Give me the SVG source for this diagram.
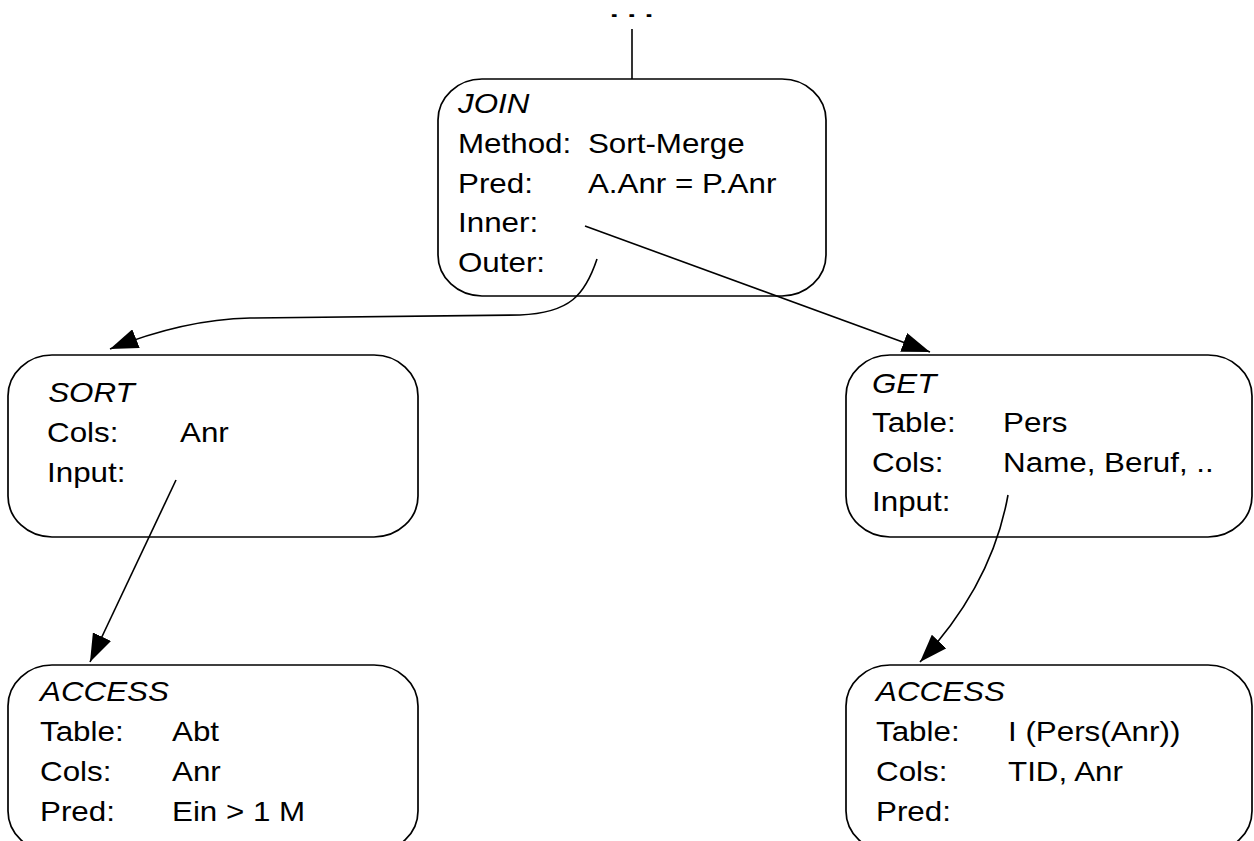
<svg xmlns="http://www.w3.org/2000/svg" width="1254" height="841" viewBox="0 0 1254 841">
  <style>
    .box { fill: #ffffff; stroke: #000000; stroke-width: 1.7; }
    .conn { fill: none; stroke: #000000; stroke-width: 1.6; }
    text { font-family: "Liberation Sans", Arial, sans-serif; font-size: 27.5px; fill: #000000; }
    .title { font-style: italic; }
    .dots { font-weight: bold; font-size: 18px; letter-spacing: 4.7px; }
  </style>
  <defs>
    <marker id="arrow" viewBox="0 0 28 20" refX="28" refY="10" markerWidth="28" markerHeight="20" markerUnits="userSpaceOnUse" orient="auto">
      <path d="M0,0 L28,10 L0,20 z" fill="#000000"/>
    </marker>
  </defs>
  <rect width="1254" height="841" fill="#ffffff"/>

  <g id="top">
    <text class="dots" transform="translate(609.7 17.2) scale(1.8 1)">...</text>
    <line class="conn" x1="632" y1="29" x2="632" y2="79"/>
  </g>

  <g id="join">
    <rect class="box" x="438" y="79" width="388" height="217" rx="44" ry="41"/>
    <g transform="translate(458 0) scale(1.14 1)">
      <text class="title" x="0" y="113">JOIN</text>
      <text x="0" y="153">Method:</text>
      <text x="114" y="153">Sort-Merge</text>
      <text x="0" y="193">Pred:</text>
      <text x="114" y="193">A.Anr = P.Anr</text>
      <text x="0" y="232">Inner:</text>
      <text x="0" y="272">Outer:</text>
    </g>
  </g>

  <g id="sort">
    <rect class="box" x="8" y="355" width="410" height="182" rx="44" ry="41"/>
    <g transform="translate(47 0) scale(1.14 1)">
      <text class="title" x="1" y="402">SORT</text>
      <text x="0" y="442">Cols:</text>
      <text x="116.7" y="442">Anr</text>
      <text x="0" y="482">Input:</text>
    </g>
  </g>

  <g id="get">
    <rect class="box" x="846" y="355" width="406" height="182" rx="44" ry="41"/>
    <g transform="translate(872 0) scale(1.14 1)">
      <text class="title" x="0" y="393">GET</text>
      <text x="0" y="432">Table:</text>
      <text x="115" y="432">Pers</text>
      <text x="0" y="472">Cols:</text>
      <text x="115" y="472">Name, Beruf, ..</text>
      <text x="0" y="511">Input:</text>
    </g>
  </g>

  <g id="access-left">
    <rect class="box" x="8" y="665" width="410" height="187" rx="44" ry="41"/>
    <g transform="translate(40 0) scale(1.14 1)">
      <text class="title" x="0" y="701">ACCESS</text>
      <text x="0" y="741">Table:</text>
      <text x="115.8" y="741">Abt</text>
      <text x="0" y="781">Cols:</text>
      <text x="115.8" y="781">Anr</text>
      <text x="0" y="821">Pred:</text>
      <text x="115.8" y="821">Ein &gt; 1 M</text>
    </g>
  </g>

  <g id="access-right">
    <rect class="box" x="846" y="665" width="406" height="187" rx="44" ry="41"/>
    <g transform="translate(876 0) scale(1.14 1)">
      <text class="title" x="0" y="701">ACCESS</text>
      <text x="0" y="741">Table:</text>
      <text x="115.8" y="741">I (Pers(Anr))</text>
      <text x="0" y="781">Cols:</text>
      <text x="115.8" y="781">TID, Anr</text>
      <text x="0" y="821">Pred:</text>
    </g>
  </g>

  <g id="connectors">
    <path class="conn" d="M597,259 C585,295 570,313 520,315 L250,318 C200,319 150,333 110,349" marker-end="url(#arrow)"/>
    <line class="conn" x1="585" y1="226" x2="930" y2="352" marker-end="url(#arrow)"/>
    <line class="conn" x1="176" y1="480" x2="90" y2="662" marker-end="url(#arrow)"/>
    <path class="conn" d="M1008,495 Q992,585 920,662" marker-end="url(#arrow)"/>
  </g>
</svg>
